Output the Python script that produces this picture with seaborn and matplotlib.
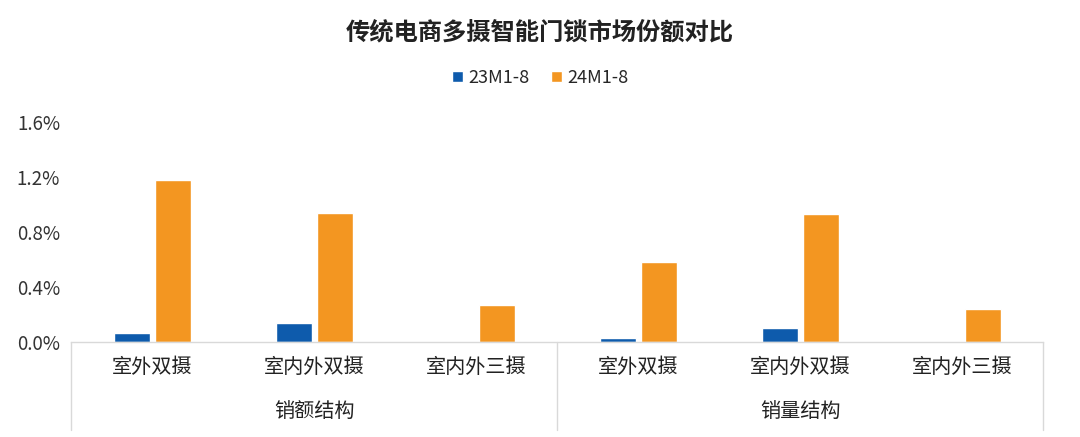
import numpy as np
import pandas as pd
import seaborn as sns
import matplotlib.pyplot as plt
import matplotlib.transforms as mtransforms
from matplotlib.patches import Patch

groups = ["销额结构", "销量结构"]
types = ["室外双摄", "室内外双摄", "室内外三摄"]
periods = ["23M1-8", "24M1-8"]
share_23 = [0.07, 0.14, 0.0, 0.03, 0.10, 0.0]
share_24 = [1.18, 0.94, 0.27, 0.58, 0.93, 0.24]
yticks = [0.0, 0.4, 0.8, 1.2, 1.6]

colors = {"23M1-8": "#0E5BAC", "24M1-8": "#F39621"}

rows = []
keys = []
for gi, g in enumerate(groups):
    for ti, t in enumerate(types):
        key = f"{g}|{t}"
        keys.append(key)
        i = gi * len(types) + ti
        rows.append({"cat": key, "period": periods[0], "share": share_23[i]})
        rows.append({"cat": key, "period": periods[1], "share": share_24[i]})
df = pd.DataFrame(rows)

sns.set_theme(style="white")
plt.rcParams["font.family"] = ["Noto Sans CJK SC", "DejaVu Sans"]

fig = plt.figure(figsize=(10.8, 4.37), dpi=100)
ax = fig.add_axes([0.066, 0.217, 0.900, 0.504])

sns.barplot(data=df, x="cat", y="share", hue="period", order=keys,
            hue_order=periods, palette=colors, width=0.5, gap=0.11,
            saturation=1, legend=False, ax=ax)

ax.set_xlim(-0.5, len(keys) - 0.5)
ax.set_ylim(0, 1.6)
ax.set_yticks(yticks)
ax.set_yticklabels([f"{v:.1f}%" for v in yticks], fontsize=13.5, color="#333333")
ax.set_xticks(range(len(keys)))
ax.set_xticklabels([k.split("|")[1] for k in keys], fontsize=14.5, color="#222222")
ax.tick_params(axis="x", length=0, pad=11)
ax.tick_params(axis="y", length=0, pad=8)
ax.set_xlabel("")
ax.set_ylabel("")

for s in ["left", "top", "right"]:
    ax.spines[s].set_visible(False)
ax.spines["bottom"].set_color("#D9D9D9")
ax.spines["bottom"].set_linewidth(1)

trans = mtransforms.blended_transform_factory(ax.transData, ax.transAxes)
for xv in [-0.5, 2.5, 5.5]:
    ax.plot([xv, xv], [0, -0.40], transform=trans, color="#D9D9D9",
            lw=1, clip_on=False)
for gi, g in enumerate(groups):
    ax.text(gi * 3 + 1, -0.315, g, transform=trans, ha="center", va="center",
            fontsize=14.5, color="#222222")

fig.text(0.5, 0.925, "传统电商多摄智能门锁市场份额对比", ha="center", va="center",
         fontsize=17.5, fontweight="bold", color="#222222")

handles = [Patch(facecolor=colors[p], label=p) for p in periods]
fig.legend(handles=handles, loc="center", bbox_to_anchor=(0.5, 0.822), ncol=2,
           frameon=False, fontsize=13, handlelength=0.6, handleheight=0.6,
           handletextpad=0.3, columnspacing=1.2)

fig.savefig("out.png", dpi=100, facecolor="white")
